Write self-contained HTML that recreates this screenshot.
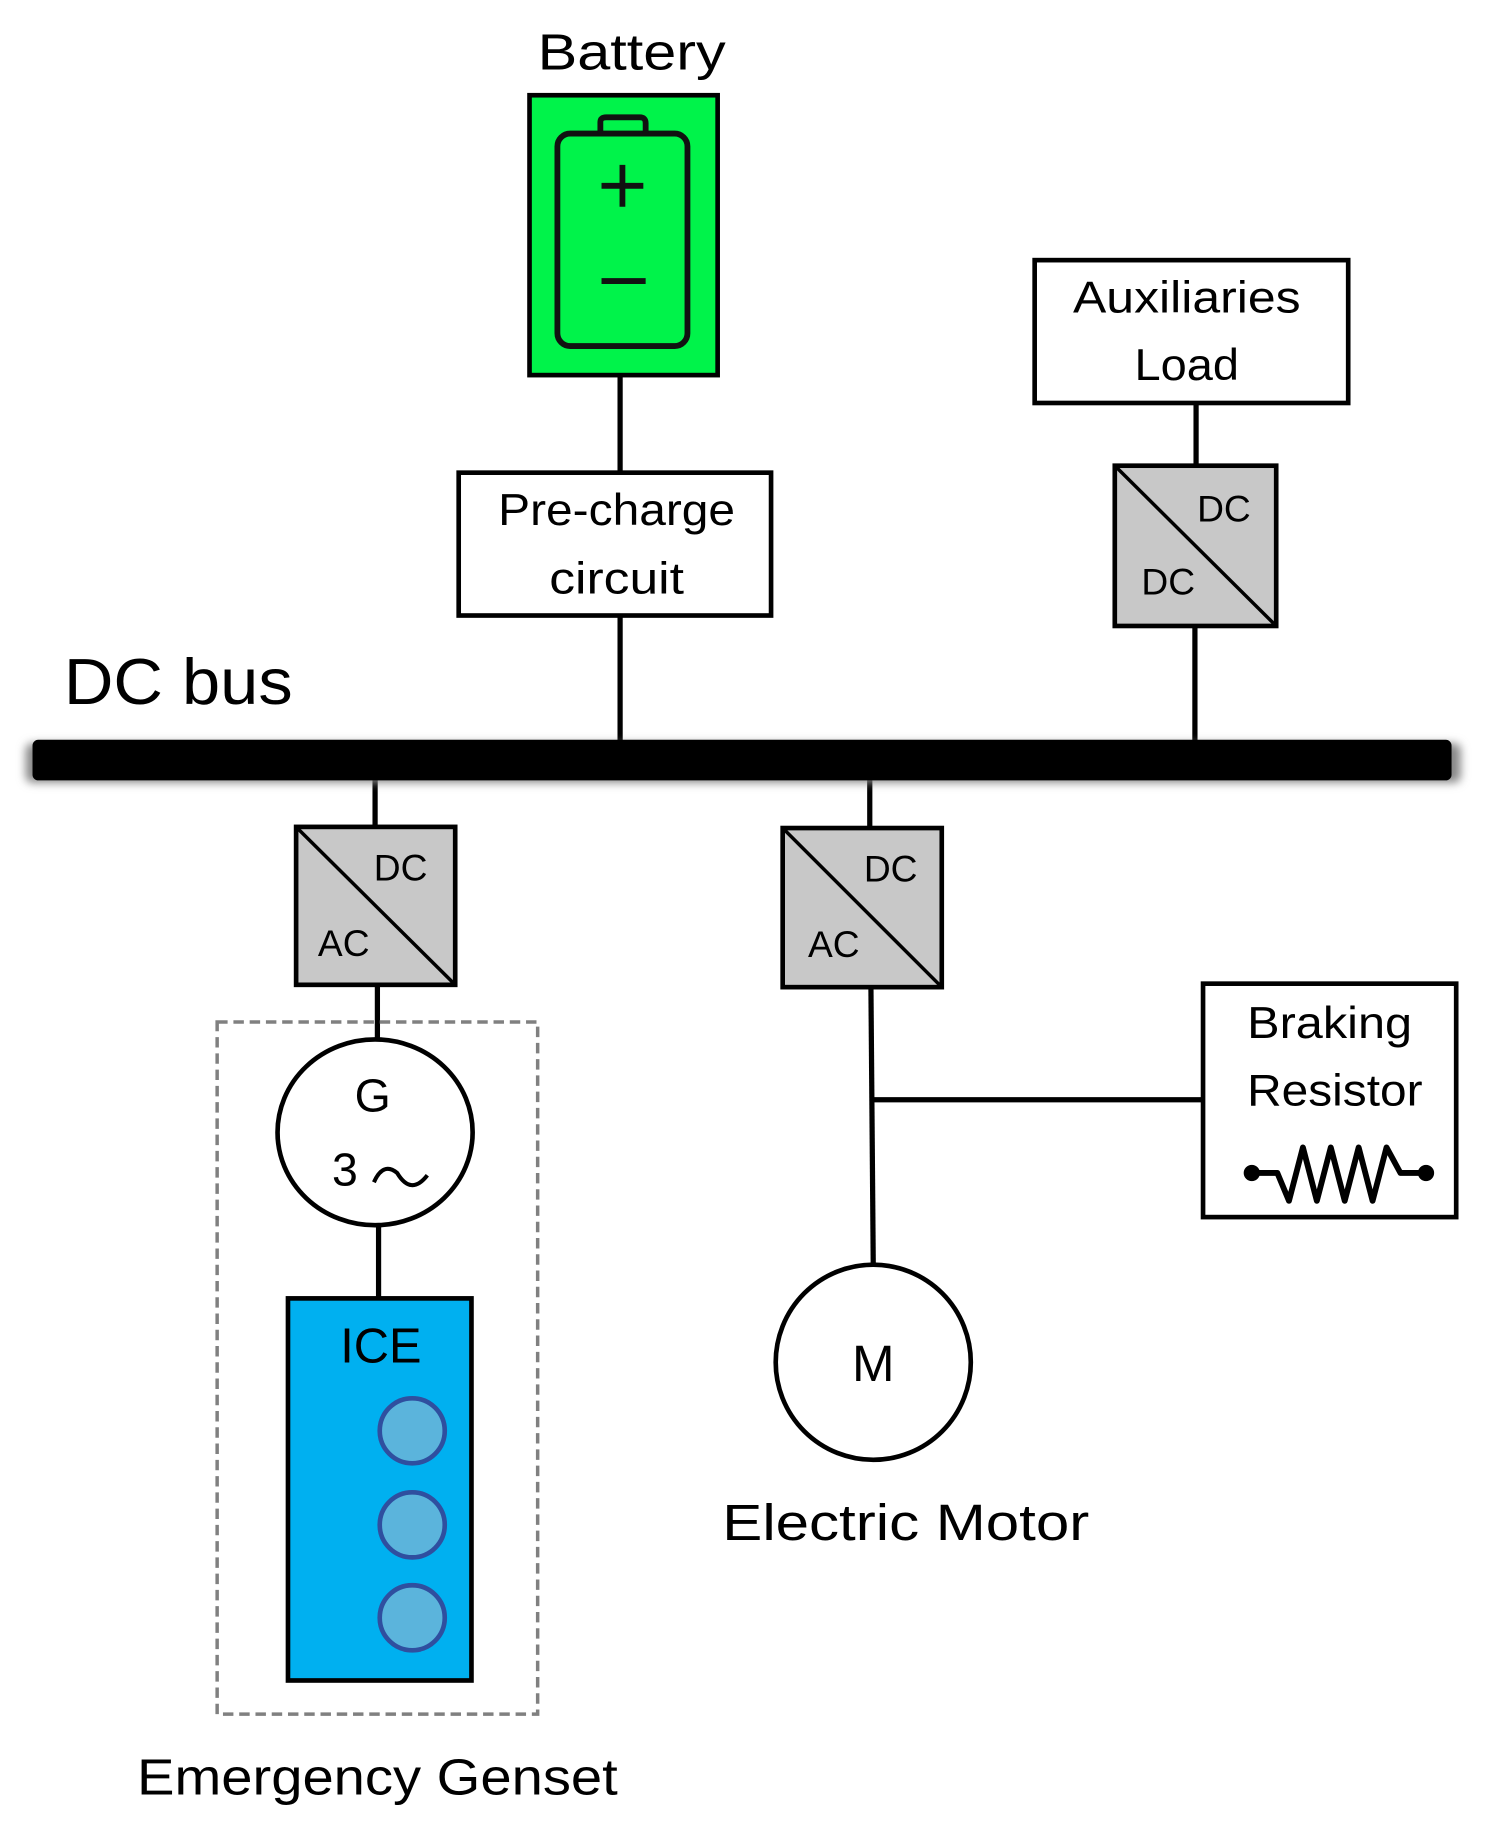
<!DOCTYPE html>
<html><head><meta charset="utf-8"><style>html,body{margin:0;padding:0;background:#fff}svg{display:block}</style></head>
<body>
<svg width="1498" height="1821" viewBox="0 0 1290 1568" preserveAspectRatio="none" xmlns="http://www.w3.org/2000/svg" font-family="Liberation Sans, sans-serif">
<defs><filter id="sh" x="-5%" y="-50%" width="110%" height="200%"><feGaussianBlur stdDeviation="4"/></filter></defs>
<g stroke="#000" stroke-width="4.5" fill="none">
<line x1="534" y1="323" x2="534" y2="407"/>
<line x1="534" y1="530" x2="534" y2="640"/>
<line x1="1030" y1="347" x2="1030" y2="401"/>
<line x1="1029" y1="539" x2="1029" y2="640"/>
<line x1="323" y1="670" x2="323" y2="712"/>
<line x1="325" y1="848" x2="325" y2="895"/>
<line x1="326" y1="1055" x2="326" y2="1118"/>
<line x1="749" y1="670" x2="749" y2="713"/>
<line x1="750" y1="850" x2="752" y2="1090"/>
<line x1="751" y1="947" x2="1036" y2="947"/>
</g>
<text x="463" y="60" font-size="44" textLength="162" lengthAdjust="spacingAndGlyphs">Battery</text>
<rect x="456" y="82" width="162" height="241" fill="#00F34A" stroke="#000" stroke-width="4"/>
<rect x="480" y="115" width="112" height="183" rx="11" fill="none" stroke="#111" stroke-width="5"/>
<path d="M517 115 V105 Q517 101 522 101 H551 Q556 101 556 106 V115" fill="none" stroke="#111" stroke-width="5"/>
<path d="M536 142 V178 M518 160 H554 M518 242 H556" stroke="#111" stroke-width="5"/>
<rect x="395" y="407" width="269" height="123" fill="#fff" stroke="#000" stroke-width="4"/>
<text x="429" y="452" font-size="38" textLength="204" lengthAdjust="spacingAndGlyphs">Pre-charge</text>
<text x="473" y="511" font-size="38" textLength="116" lengthAdjust="spacingAndGlyphs">circuit</text>
<rect x="891" y="224" width="270" height="123" fill="#fff" stroke="#000" stroke-width="4"/>
<text x="924" y="269" font-size="38" textLength="196" lengthAdjust="spacingAndGlyphs">Auxiliaries</text>
<text x="977" y="327" font-size="38" textLength="90" lengthAdjust="spacingAndGlyphs">Load</text>
<rect x="960" y="401" width="139" height="138" fill="#c8c8c8" stroke="#000" stroke-width="4"/>
<line x1="962" y1="403" x2="1097" y2="537" stroke="#000" stroke-width="3"/>
<text x="1054" y="449" font-size="32" text-anchor="middle">DC</text>
<text x="1006" y="512" font-size="32" text-anchor="middle">DC</text>
<text x="55" y="606" font-size="56" textLength="197" lengthAdjust="spacingAndGlyphs">DC bus</text>
<rect x="22" y="640" width="1236" height="34" rx="6" fill="#888" filter="url(#sh)"/>
<rect x="28" y="637" width="1222" height="35" rx="5" fill="#000"/>
<rect x="255" y="712" width="137" height="136" fill="#c8c8c8" stroke="#000" stroke-width="4"/>
<line x1="257" y1="714" x2="390" y2="846" stroke="#000" stroke-width="3"/>
<text x="345" y="758" font-size="32" text-anchor="middle">DC</text>
<text x="296" y="823" font-size="32" text-anchor="middle">AC</text>
<rect x="674" y="713" width="137" height="137" fill="#c8c8c8" stroke="#000" stroke-width="4"/>
<line x1="676" y1="715" x2="809" y2="848" stroke="#000" stroke-width="3"/>
<text x="767" y="759" font-size="32" text-anchor="middle">DC</text>
<text x="718" y="824" font-size="32" text-anchor="middle">AC</text>
<rect x="187" y="880" width="276" height="596" fill="none" stroke="#808080" stroke-width="3" stroke-dasharray="9,5"/>
<ellipse cx="323" cy="975" rx="84" ry="80" fill="#fff" stroke="#000" stroke-width="4"/>
<text x="321" y="957" font-size="40" text-anchor="middle">G</text>
<text x="297" y="1021" font-size="40" text-anchor="middle">3</text>
<path d="M322 1018 Q330 1000 342 1010 Q354 1030 368 1012" fill="none" stroke="#000" stroke-width="3.5"/>
<rect x="248" y="1118" width="158" height="329" fill="#00B0F0" stroke="#000" stroke-width="4"/>
<text x="328" y="1173" font-size="42" text-anchor="middle">ICE</text>
<g fill="#5BB4DC" stroke="#2F4F9F" stroke-width="4">
<circle cx="355" cy="1232" r="28"/><circle cx="355" cy="1313" r="28"/><circle cx="355" cy="1393" r="28"/>
</g>
<text x="118" y="1545" font-size="44" textLength="414" lengthAdjust="spacingAndGlyphs">Emergency Genset</text>
<rect x="1036" y="847" width="218" height="201" fill="#fff" stroke="#000" stroke-width="4"/>
<text x="1074" y="894" font-size="38" textLength="142" lengthAdjust="spacingAndGlyphs">Braking</text>
<text x="1074" y="952" font-size="38" textLength="151" lengthAdjust="spacingAndGlyphs">Resistor</text>
<path d="M1078 1010 H1100 L1110 1034 L1122 988 L1134 1034 L1146 988 L1158 1034 L1170 988 L1182 1034 L1194 988 L1206 1010 H1228" fill="none" stroke="#000" stroke-width="5" stroke-linejoin="round"/>
<circle cx="1078" cy="1010" r="7"/><circle cx="1228" cy="1010" r="7"/>
<circle cx="752" cy="1173" r="84" fill="#fff" stroke="#000" stroke-width="4"/>
<text x="752" y="1189" font-size="44" text-anchor="middle">M</text>
<text x="622" y="1326" font-size="44" textLength="316" lengthAdjust="spacingAndGlyphs">Electric Motor</text>
</svg>
</body></html>
